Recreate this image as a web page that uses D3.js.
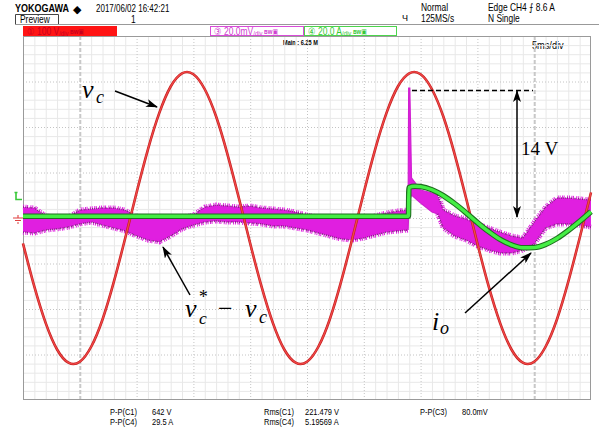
<!DOCTYPE html>
<html>
<head>
<meta charset="utf-8">
<script src="https://cdn.jsdelivr.net/npm/d3@7"></script>
<style>
  html, body { margin: 0; padding: 0; background: #fff; }
  svg { display: block; }
  .scope { font-family: "Liberation Sans", "DejaVu Sans", sans-serif; }
  .math { font-family: "Liberation Serif", "DejaVu Serif", serif; font-style: italic; }
  .roman { font-family: "Liberation Serif", "DejaVu Serif", serif; font-style: normal; }
</style>
</head>
<body>
<script>
// ---- acquisition: 5 ms/div, 10 divisions ----
const sampleMs = [0,1,2,3,4,5,6,7,8,9,10,11,12,13,14,15,16,17,18,19,20,21,22,23,24,25,
                  26,27,28,29,30,31,32,33,34,35,36,37,38,39,40,41,42,43,44,45,46,47,48,49,50];

// CH1: capacitor voltage v_c (V), 100 V/div
const vcVolts = [-56,-151,-231,-289,-318,-316,-283,-223,-140,-44,56,151,231,289,318,316,283,223,140,44,
                 -56,-151,-231,-289,-318,-316,-283,-223,-140,-44,56,151,231,289,318,316,283,223,140,44,
                 -56,-151,-231,-289,-318,-316,-283,-223,-140,-44,56];

// CH4: output current i_o (A), 20 A/div, load step near 34 ms
const ioMs   = [0, 33.93, 33.97, 34.5, 35, 36, 37, 38, 39, 40, 41, 42, 43, 44, 45, 46, 47, 48, 49, 50];
const ioAmps = [0.8, 0.8, 13.4, 13.95, 13.8, 12.4, 9.8, 6.3, 2.3, -2.0, -6.0, -9.4, -11.8, -13.1, -13.0, -11.6, -9.0, -5.5, -1.5, 2.8];

// CH3: tracking error v_c* - v_c (mV), 20 mV/div, upper / lower envelope of the noisy trace
const errMs   = [0,1,2,3,4,5,6,7,8,9,10,11,12,13,14,15,16,17,18,19,20,21,22,23,24,25,26,27,28,29,30,31,32,33,
                 33.9,33.95,34.05,34.2,35,36,36.5,37,38,39,40,41,42,43,44,45,46,47,48,49,50];
const errHiMv = [4.8,4.4,0.9,0.4,0.4,3.5,4.0,4.4,4.4,3.5,0.4,0,0,0,0.4,1.3,4.8,5.7,5.3,4.8,
                 5.3,4.4,4.0,3.5,2.6,1.3,0.4,0,0,0,0,0.9,2.2,3.1,
                 3.5,57.1,57.1,17.6,12.3,11.0,10.1,3.5,0.9,-0.4,-2.6,-4.4,-6.2,-7.9,-8.8,-1.8,4.8,8.8,8.8,8.4,7.9];
const errLoMv = [-6.2,-6.6,-5.3,-4.8,-4.0,-2.6,-1.8,-3.1,-4.4,-5.7,-7.9,-9.7,-10.5,-7.9,-4.8,-3.1,-1.8,-1.3,-1.8,-1.8,
                 -2.2,-2.6,-3.5,-3.5,-4.4,-5.3,-6.6,-7.9,-9.2,-9.7,-8.8,-7.5,-6.2,-5.7,
                 -5.3,1.3,7.9,10.1,6.6,2.6,1.8,-4.4,-7.9,-9.7,-12.3,-14.1,-15.4,-15.4,-14.1,-11.4,-4.4,-2.6,-2.6,-3.1,-4.0];

// grid ticks
const majorMs   = [5,10,15,20,25,30,35,40,45];
const minorMs   = [1,2,3,4,6,7,8,9,11,12,13,14,16,17,18,19,21,22,23,24,26,27,28,29,31,32,33,34,36,37,38,39,41,42,43,44,46,47,48,49];
const cursorMs  = [5,45];
const majorV    = [-300,-200,-100,0,100,200,300];
const minorV    = [-380,-360,-340,-320,-280,-260,-240,-220,-180,-160,-140,-120,-80,-60,-40,-20,
                   20,40,60,80,120,140,160,180,220,240,260,280,320,340,360,380];

// readouts
const measLeft  = [["P-P(C1)", "642 V"], ["P-P(C4)", "29.5 A"]];
const measMid   = [["Rms(C1)", "221.479 V"], ["Rms(C4)", "5.19569 A"]];
const measRight = [["P-P(C3)", "80.0mV"]];

const W = 599, H = 443;
const P = { l: 23, r: 591, t: 36, b: 400 };

const x   = d3.scaleLinear().domain([0, 50]).range([P.l, P.r]);
const yV  = d3.scaleLinear().domain([-400, 400]).range([P.b, P.t]);
const yA  = d3.scaleLinear().domain([-80, 80]).range([P.b, P.t]);
const yMv = d3.scaleLinear().domain([-80, 80]).range([P.b, P.t]);

const svg = d3.select("body").append("svg").attr("width", W).attr("height", H);
svg.append("rect").attr("width", W).attr("height", H).attr("fill", "#fff");

// narrow instrument-style text
function sText(g, x0, y0, size, str, opts = {}) {
  const t = g.append("text").attr("class", "scope")
    .attr("transform", `translate(${x0},${y0}) scale(${opts.sx || 0.8},1)`)
    .attr("font-size", size).attr("fill", opts.fill || "#000");
  if (opts.bold) t.attr("font-weight", "bold");
  if (str !== null) t.text(str);
  return t;
}

// ---------- header ----------
const hdr = svg.append("g");
sText(hdr, 15, 12, 11, "YOKOGAWA", { bold: true, sx: 0.82 });
sText(hdr, 73, 12.5, 11, "◆", { sx: 1 });
sText(hdr, 96, 11.5, 10, "2017/06/02  16:42:21");
hdr.append("path").attr("d", "M15.5,24 V14.5 H58.5 V24").attr("fill", "none").attr("stroke", "#444");
sText(hdr, 20, 23, 10.5, "Preview");
sText(hdr, 131, 23, 10.5, "1");
hdr.append("line").attr("x1", 15).attr("x2", 599).attr("y1", 24.5).attr("y2", 24.5).attr("stroke", "#999");

sText(hdr, 402, 21, 9, "Ч", { sx: 1 });
sText(hdr, 421, 11, 10.5, "Normal");
sText(hdr, 421, 22, 10.5, "125MS/s");
sText(hdr, 488, 11, 10.5, "Edge CH4 ⨍ 8.6 A");
sText(hdr, 488, 22, 10.5, "N Single");

// channel boxes
const chans = [
  { x0: 23,  x1: 117, fill: "#ff1414", stroke: "#ff1414", color: "#c8001e", num: "①", val: "100 V" },
  { x0: 210, x1: 304, fill: "#fff",    stroke: "#d84cd8", color: "#d040d0", num: "③", val: "20.0mV" },
  { x0: 304, x1: 397, fill: "#fff",    stroke: "#4cd44c", color: "#38c838", num: "④", val: "20.0 A" }
];
chans.forEach(c => {
  hdr.append("rect").attr("x", c.x0 + 0.5).attr("y", 26.5).attr("width", c.x1 - c.x0 - 1).attr("height", 9)
     .attr("fill", c.fill).attr("stroke", c.stroke);
  const t = sText(hdr, c.x0 + 4, 34.5, 10, null, { fill: c.color, sx: 0.85 });
  t.append("tspan").text(c.num + " " + c.val);
  t.append("tspan").attr("font-size", 7).attr("dy", 1).text("/div");
  t.append("tspan").attr("font-size", 7).attr("dy", -2).attr("font-weight", "bold").text(" ʙᴡ▣");
});

sText(hdr, 283, 45, 7, "Main : 6.25 M", { bold: true });
sText(hdr, 532, 49, 11.5, "5ms/div");

// ---------- grid ----------
const grid = svg.append("g");
const plotH = P.b - P.t, plotW = P.r - P.l;

function vGrid(vals, stroke, dash, width) {
  grid.append("g").attr("transform", `translate(0,${P.b})`)
    .call(d3.axisBottom(x).tickValues(vals).tickSize(-plotH).tickFormat(""))
    .call(g => g.select(".domain").remove())
    .selectAll("line").attr("stroke", stroke).attr("stroke-dasharray", dash).attr("stroke-width", width);
}
function hGrid(vals, stroke, dash, width) {
  grid.append("g").attr("transform", `translate(${P.l},0)`)
    .call(d3.axisLeft(yV).tickValues(vals).tickSize(-plotW).tickFormat(""))
    .call(g => g.select(".domain").remove())
    .selectAll("line").attr("stroke", stroke).attr("stroke-dasharray", dash).attr("stroke-width", width);
}
vGrid(minorMs, "#e8e8e8", null, 1);
hGrid(minorV, "#e8e8e8", null, 1);
vGrid(majorMs, "#c4c4c4", "1,2", 1);
hGrid(majorV, "#c4c4c4", "1,2", 1);
vGrid(cursorMs, "#c8c8c8", "4,2", 2);
grid.selectAll(".tick text").remove();

svg.append("rect").attr("x", P.l + 0.5).attr("y", P.t + 0.5).attr("width", plotW - 1).attr("height", plotH - 1)
   .attr("fill", "none").attr("stroke", "#9a9a9a");

// left-edge markers: trigger level (CH4) and ground
svg.append("path").attr("d", `M16,${yA(8.6) - 6} V${yA(8.6) + 1} H22 M14.5,${yA(8.6) - 6} H17.5`)
   .attr("fill", "none").attr("stroke", "#39c839").attr("stroke-width", 1.6);
svg.append("path").attr("d", `M13,${yV(0)} H23 M15,${yV(0) + 2.5} H21 M17,${yV(0) + 5} H19 M18,${yV(0) - 3} V${yV(0)}`)
   .attr("fill", "none").attr("stroke", "#e04040").attr("stroke-width", 1.1);

// ---------- traces ----------
const traces = svg.append("g");

// CH3 error band
const errPts = errMs.map((t, i) => ({ t, hi: errHiMv[i], lo: errLoMv[i] }));
const band = d3.area().x(d => x(d.t)).y0(d => yMv(d.lo)).y1(d => yMv(d.hi));
traces.append("path").attr("d", band(errPts)).attr("fill", "#e01fe0");
const hiLine = d3.line().x(d => x(d.t)).y(d => yMv(d.hi));
const loLine = d3.line().x(d => x(d.t)).y(d => yMv(d.lo));
// noisy edges on the steady parts of the trace
const steady = [errPts.filter(d => d.t <= 33.9), errPts.filter(d => d.t >= 36.5)];
steady.forEach(seg => {
  [hiLine, loLine].forEach(ln => {
    traces.append("path").attr("d", ln(seg)).attr("fill", "none")
      .attr("stroke", "#e01fe0").attr("stroke-width", 5).attr("stroke-dasharray", "1,1.4,1,0.6,1,2.3,1,0.9");
    traces.append("path").attr("d", ln(seg)).attr("fill", "none")
      .attr("stroke", "#6e1e6e").attr("stroke-width", 1.5).attr("stroke-dasharray", "0.8,1.7,0.8,0.9");
  });
});
// transient: thin spike and decay
const transient = errPts.filter(d => d.t >= 33.9 && d.t <= 36.5);
[hiLine, loLine].forEach(ln => {
  traces.append("path").attr("d", ln(transient)).attr("fill", "none")
    .attr("stroke", "#d020d0").attr("stroke-width", 1.2);
});

// CH1 v_c
const vcPts = sampleMs.map((t, i) => ({ t, v: vcVolts[i] }));
const vcLine = d3.line().x(d => x(d.t)).y(d => yV(d.v)).curve(d3.curveNatural);
traces.append("path").attr("d", vcLine(vcPts)).attr("fill", "none").attr("stroke", "#c41e1e").attr("stroke-width", 2.6);
traces.append("path").attr("d", vcLine(vcPts)).attr("fill", "none").attr("stroke", "#f04848").attr("stroke-width", 1.3);

// CH4 i_o
const ioPts = ioMs.map((t, i) => ({ t, a: ioAmps[i] }));
const ioLine = d3.line().x(d => x(d.t)).y(d => yA(d.a)).curve(d3.curveMonotoneX);
traces.append("path").attr("d", ioLine(ioPts)).attr("fill", "none").attr("stroke", "#1f6e1f").attr("stroke-width", 5.5);
traces.append("path").attr("d", ioLine(ioPts)).attr("fill", "none").attr("stroke", "#44ee44").attr("stroke-width", 3.4);

// ---------- annotations ----------
const defs = svg.append("defs");
defs.append("marker").attr("id", "head").attr("viewBox", "0 0 12 8").attr("refX", 11).attr("refY", 4)
  .attr("markerWidth", 12).attr("markerHeight", 8).attr("markerUnits", "userSpaceOnUse").attr("orient", "auto-start-reverse")
  .append("path").attr("d", "M0,0 L12,4 L0,8 L3,4 Z").attr("fill", "#000");

const ann = svg.append("g");
function arrow(x1, y1, x2, y2, both) {
  const l = ann.append("line").attr("x1", x1).attr("y1", y1).attr("x2", x2).attr("y2", y2)
    .attr("stroke", "#000").attr("stroke-width", 1.5).attr("marker-end", "url(#head)");
  if (both) l.attr("marker-start", "url(#head)");
}
arrow(115, 91, 157, 107);
arrow(190, 295, 163, 247);
arrow(465, 313, 531, 253);
arrow(517, 91, 517, 217, true);
ann.append("line").attr("x1", 412).attr("x2", 533).attr("y1", 90.5).attr("y2", 90.5)
   .attr("stroke", "#000").attr("stroke-width", 1.3).attr("stroke-dasharray", "5,3");

// math labels: each one a single text built from positioned pieces
function mathLabel(parts) {
  const t = ann.append("text").attr("class", "math");
  parts.forEach(p => {
    const s = t.append("tspan").attr("x", p.x).attr("y", p.y).attr("font-size", p.size).text(p.s);
    if (p.roman) s.attr("class", "roman");
  });
}
mathLabel([{ s: "v", x: 82, y: 98, size: 26 }, { s: "c", x: 96, y: 103, size: 18 }]);
mathLabel([
  { s: "v", x: 185, y: 317, size: 26 },
  { s: "*", x: 198, y: 303, size: 18 }
]);
mathLabel([
  { s: "c", x: 199, y: 324, size: 17.5 },
  { s: "−", x: 218, y: 317, size: 26, roman: true },
  { s: "v", x: 245, y: 317, size: 26 },
  { s: "c", x: 259, y: 323, size: 18 }
]);
mathLabel([{ s: "i", x: 432, y: 330, size: 26 }, { s: "o", x: 440, y: 334, size: 18 }]);
ann.append("text").attr("class", "roman").attr("x", 521).attr("y", 155).attr("font-size", 19).text("14 V");

// ---------- measurements ----------
const meas = svg.append("g");
function measCol(rows, x0, x1) {
  rows.forEach((r, i) => {
    sText(meas, x0, 415 + i * 10.3, 8.8, r[0], { sx: 0.85 });
    sText(meas, x1, 415 + i * 10.3, 8.8, r[1], { sx: 0.85 });
  });
}
measCol(measLeft, 110, 152);
measCol(measMid, 264, 305);
measCol(measRight, 420, 462);
</script>
</body>
</html>
